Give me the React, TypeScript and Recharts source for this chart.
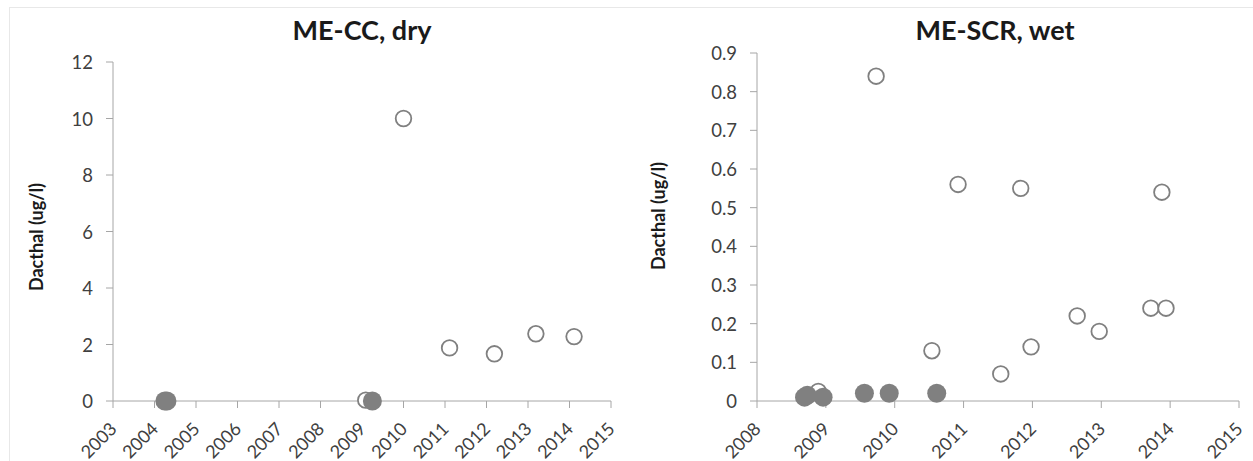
import React from "react";
import { ScatterChart, Scatter, XAxis, YAxis } from "recharts";

// ---- ME-CC, dry ----
const ccYearTicks = [2003, 2004, 2005, 2006, 2007, 2008, 2009, 2010, 2011, 2012, 2013, 2014, 2015];
const ccValueTicks = [0, 2, 4, 6, 8, 10, 12];
const ccOpenYears = [2009.09, 2010.0, 2011.11, 2012.19, 2013.19, 2014.11];
const ccOpenValues = [0.03, 10, 1.88, 1.67, 2.38, 2.28];
const ccFilledYears = [2004.25, 2004.3, 2009.25];
const ccFilledValues = [0, 0, 0];

// ---- ME-SCR, wet ----
const scrYearTicks = [2008, 2009, 2010, 2011, 2012, 2013, 2014, 2015];
const scrValueTicks = [0, 0.1, 0.2, 0.3, 0.4, 0.5, 0.6, 0.7, 0.8, 0.9];
const scrOpenYears = [2008.89, 2009.73, 2010.54, 2010.92, 2011.54, 2011.83, 2011.98, 2012.65, 2012.97, 2013.72, 2013.88, 2013.94];
const scrOpenValues = [0.025, 0.84, 0.13, 0.56, 0.07, 0.55, 0.14, 0.22, 0.18, 0.24, 0.54, 0.24];
const scrFilledYears = [2008.69, 2008.73, 2008.96, 2009.56, 2009.92, 2010.61];
const scrFilledValues = [0.01, 0.015, 0.01, 0.02, 0.02, 0.02];

const toPoints = (xs: number[], ys: number[]) => xs.map((x, i) => ({ x, y: ys[i] }));

const FONT = "Lato, 'Open Sans', sans-serif";
const AXIS = "#a6a6a6";
const TICK_TEXT = "#404040";
const MARK = "#808080";

const XTick = (props: any) => {
  const { x, y, payload } = props;
  const ax = x + 5;
  const ay = y + 22;
  return (
    <text
      x={ax}
      y={ay}
      transform={`rotate(-45 ${ax} ${ay})`}
      textAnchor="end"
      fill={TICK_TEXT}
      fontSize={18}
      fontFamily={FONT}
    >
      {payload.value}
    </text>
  );
};

const YTick = (props: any) => {
  const { x, y, payload } = props;
  return (
    <text x={x} y={y} dy={7} textAnchor="end" fill={TICK_TEXT} fontSize={18.5} fontFamily={FONT}>
      {payload.value}
    </text>
  );
};

const OpenDot = (props: any) => (
  <circle cx={props.cx} cy={props.cy} r={7.8} fill="#ffffff" stroke={MARK} strokeWidth={1.8} />
);
const FilledDot = (props: any) => (
  <circle cx={props.cx} cy={props.cy} r={9.5} fill={MARK} stroke="none" />
);

type PanelProps = {
  left: number;
  width: number;
  yAxisWidth: number;
  top: number;
  right: number;
  bottom: number;
  xTicks: number[];
  yTicks: number[];
  yMax: number;
  open: { x: number; y: number }[];
  filled: { x: number; y: number }[];
};

const Panel = (p: PanelProps) => (
  <div style={{ position: "absolute", left: p.left, top: 0 }}>
    <ScatterChart
      width={p.width}
      height={461}
      margin={{ top: p.top, right: p.right, bottom: p.bottom, left: 0 }}
      style={{ overflow: "visible" }}
    >
      <XAxis
        type="number"
        dataKey="x"
        domain={[p.xTicks[0], p.xTicks[p.xTicks.length - 1]]}
        ticks={p.xTicks}
        interval={0}
        allowDataOverflow
        height={60}
        tickSize={7}
        tickMargin={0}
        stroke={AXIS}
        tick={<XTick />}
      />
      <YAxis
        type="number"
        dataKey="y"
        domain={[0, p.yMax]}
        ticks={p.yTicks}
        interval={0}
        width={p.yAxisWidth}
        tickSize={7}
        tickMargin={13}
        stroke={AXIS}
        tick={<YTick />}
      />
      <Scatter data={p.open} shape={<OpenDot />} isAnimationActive={false} />
      <Scatter data={p.filled} shape={<FilledDot />} isAnimationActive={false} />
    </ScatterChart>
  </div>
);

const titleStyle: React.CSSProperties = {
  position: "absolute",
  top: 14,
  fontFamily: FONT,
  fontWeight: 700,
  fontSize: 27,
  lineHeight: "32px",
  color: "#1a1a1a",
  whiteSpace: "nowrap",
  transform: "translateX(-50%)",
};

const yLabelStyle: React.CSSProperties = {
  position: "absolute",
  fontFamily: FONT,
  fontWeight: 700,
  fontSize: 18,
  lineHeight: "22px",
  color: "#1a1a1a",
  whiteSpace: "nowrap",
  transform: "translate(-50%, -50%) rotate(-90deg)",
};

export default function App() {
  return (
    <div
      style={{
        position: "absolute",
        left: 0,
        top: 0,
        width: 1253,
        height: 461,
        background: "#ffffff",
        overflow: "hidden",
      }}
    >
      <div
        style={{
          position: "absolute",
          left: 9,
          top: 7,
          width: 1300,
          height: 500,
          borderTop: "1px solid #e8e8e8",
          borderLeft: "1px solid #e8e8e8",
        }}
      />
      <Panel
        left={0}
        width={620}
        yAxisWidth={113}
        top={62}
        right={9}
        bottom={0}
        xTicks={ccYearTicks}
        yTicks={ccValueTicks}
        yMax={12}
        open={toPoints(ccOpenYears, ccOpenValues)}
        filled={toPoints(ccFilledYears, ccFilledValues)}
      />
      <Panel
        left={620}
        width={633}
        yAxisWidth={137}
        top={53}
        right={14}
        bottom={0}
        xTicks={scrYearTicks}
        yTicks={scrValueTicks}
        yMax={0.9}
        open={toPoints(scrOpenYears, scrOpenValues)}
        filled={toPoints(scrFilledYears, scrFilledValues)}
      />
      <div style={{ ...titleStyle, left: 362 }}>ME-CC, dry</div>
      <div style={{ ...titleStyle, left: 995 }}>ME-SCR, wet</div>
      <div style={{ ...yLabelStyle, left: 36, top: 237 }}>Dacthal (ug/l)</div>
      <div style={{ ...yLabelStyle, left: 658, top: 216 }}>Dacthal (ug/l)</div>
    </div>
  );
}
